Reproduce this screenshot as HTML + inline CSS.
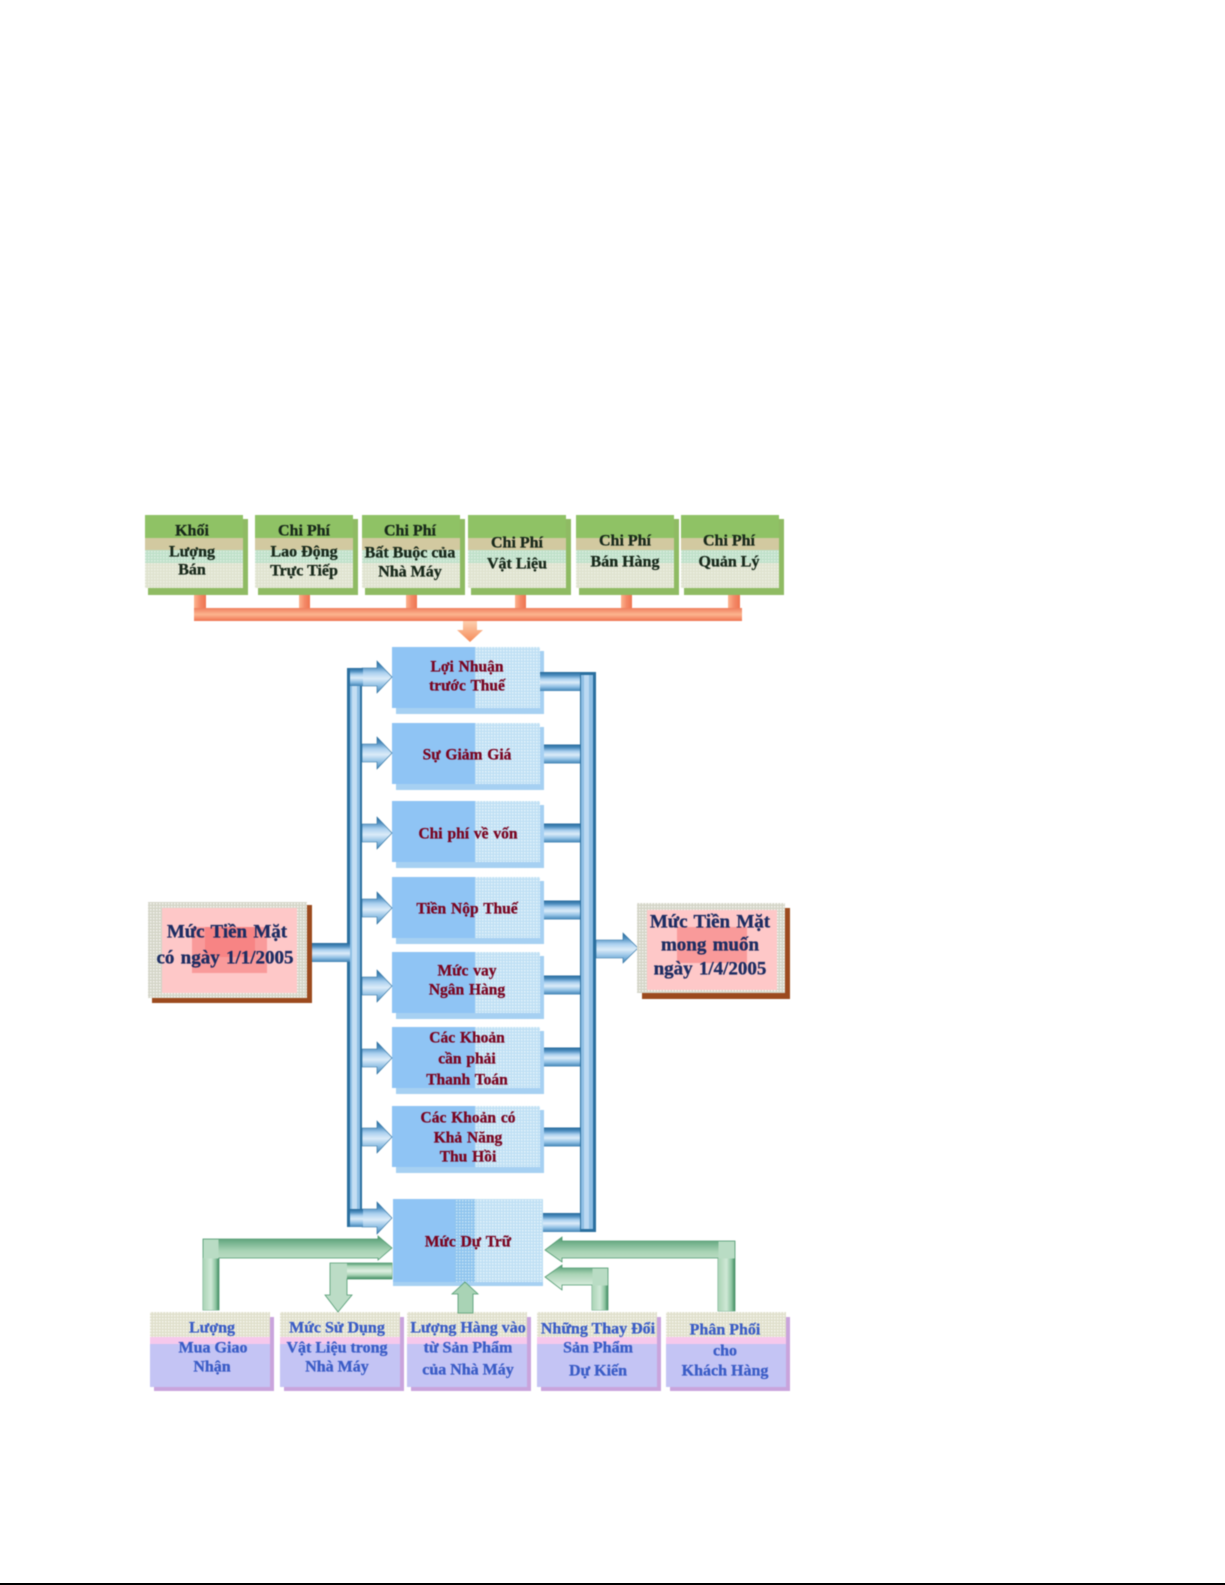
<!DOCTYPE html>
<html><head><meta charset="utf-8"><style>
html,body{margin:0;padding:0;background:#fff;width:1225px;height:1585px;overflow:hidden}
svg{display:block;position:absolute;left:0;top:0}
.blur{filter:blur(.45px)}
text{font-family:"Liberation Serif","DejaVu Serif",serif;font-weight:bold;text-anchor:middle;dominant-baseline:central;stroke-width:.3px}
.g text{fill:#17281a;stroke:#17281a;font-size:16px}
.r text{fill:#7a0420;stroke:#7a0420;font-size:15.5px;word-spacing:1px}
.c text{fill:#1c2c62;stroke:#1c2c62;font-size:19px;word-spacing:1.5px}
.b text{fill:#3a5cc6;stroke:#3a5cc6;font-size:16px}
</style></head><body>
<svg width="1225" height="1585" viewBox="0 0 1225 1585" xmlns="http://www.w3.org/2000/svg">
<defs>
<pattern id="dg" width="3" height="3" patternUnits="userSpaceOnUse"><rect width="3" height="3" fill="#dfe3cf"/><rect width="1.5" height="1.5" fill="#eef0e4"/></pattern>
<pattern id="dgr" width="3" height="3" patternUnits="userSpaceOnUse"><rect width="3" height="3" fill="#bfe0c9"/><rect width="1.5" height="1.5" fill="#dcefe1"/></pattern>
<pattern id="db" width="3" height="3" patternUnits="userSpaceOnUse"><rect width="3" height="3" fill="#c0e0f4"/><rect width="1.5" height="1.5" fill="#e4f3fb"/></pattern>
<pattern id="dm" width="3" height="3" patternUnits="userSpaceOnUse"><rect width="3" height="3" fill="#8fc4ee"/><rect width="1.5" height="1.5" fill="#c6e4f6"/></pattern>
<pattern id="dp" width="3" height="3" patternUnits="userSpaceOnUse"><rect width="3" height="3" fill="#d4d5c8"/><rect width="1.5" height="1.5" fill="#f4f4ee"/></pattern>
<pattern id="dl" width="3" height="3" patternUnits="userSpaceOnUse"><rect width="3" height="3" fill="#e0e0cc"/><rect width="1.5" height="1.5" fill="#f6f5ee"/></pattern>
<linearGradient id="bv" x1="0" y1="0" x2="0" y2="1"><stop offset="0" stop-color="#24689a"/><stop offset=".18" stop-color="#4f8fc0"/><stop offset=".36" stop-color="#a9cfee"/><stop offset=".55" stop-color="#dcecf9"/><stop offset=".78" stop-color="#8fbfe4"/><stop offset="1" stop-color="#3f82b4"/></linearGradient>
<linearGradient id="gv" x1="0" y1="0" x2="0" y2="1"><stop offset="0" stop-color="#4f9a70"/><stop offset=".2" stop-color="#a9d3b5"/><stop offset=".5" stop-color="#e0f0e3"/><stop offset=".75" stop-color="#a9d3b5"/><stop offset="1" stop-color="#3f8a60"/></linearGradient>
<linearGradient id="gh" x1="0" y1="0" x2="1" y2="0"><stop offset="0" stop-color="#a9d3b5"/><stop offset=".5" stop-color="#cfe8d6"/><stop offset=".8" stop-color="#8cc4a0"/><stop offset="1" stop-color="#3f8a60"/></linearGradient>
<linearGradient id="ov" x1="0" y1="0" x2="0" y2="1"><stop offset="0" stop-color="#ef7f5e"/><stop offset=".5" stop-color="#fdb48f"/><stop offset="1" stop-color="#ef7450"/></linearGradient>
<linearGradient id="oh" x1="0" y1="0" x2="1" y2="0"><stop offset="0" stop-color="#fdb48f"/><stop offset=".5" stop-color="#f48a68"/><stop offset="1" stop-color="#ee7450"/></linearGradient>
<linearGradient id="oa" x1="0" y1="0" x2="0" y2="1"><stop offset="0" stop-color="#fdd0b0"/><stop offset="1" stop-color="#f58a58"/></linearGradient>
<g id="tb">
<rect x="3" y="4" width="100" height="76" fill="#8fbb63"/>
<rect x="0" y="0" width="98" height="23" fill="#8fc265"/>
<rect x="0" y="23" width="98" height="12" fill="#d2c9a0"/>
<rect x="0" y="35" width="98" height="13" fill="url(#dgr)"/>
<rect x="0" y="48" width="98" height="25" fill="url(#dg)"/>
</g>
<g id="bb">
<rect x="4" y="4" width="148" height="63" fill="#a6d0f2"/>
<rect x="0" y="0" width="148" height="61" fill="#8fc4f4"/>
<rect x="83" y="0" width="65" height="61" fill="url(#db)"/>
</g>
<g id="lb">
<rect x="4" y="5" width="120" height="74" fill="#c9a4dc"/>
<rect x="0" y="0" width="120" height="75" fill="#c4c4f4"/>
<rect x="0" y="0" width="120" height="25" fill="url(#dl)"/>
<rect x="0" y="25" width="120" height="7" fill="#f6c8ec"/>
</g>
<polygon id="la" points="0,-9 15,-9 15,-16 30,0 15,16 15,9 0,9" fill="url(#bv)" stroke="#2a6f9f" stroke-width=".6"/>
<rect id="ra" x="0" y="-9.5" width="40" height="19" fill="url(#bv)"/>
</defs>
<rect width="1225" height="1585" fill="#fff"/>
<rect x="0" y="1583" width="1225" height="2" fill="#000"/>

<g class="blur">
<!-- top boxes -->
<use href="#tb" x="145" y="515"/><use href="#tb" x="255" y="515"/><use href="#tb" x="362" y="515"/><use href="#tb" x="468" y="515"/><use href="#tb" x="576" y="515"/><use href="#tb" x="681" y="515"/>
<!-- orange -->
<g fill="url(#oh)"><rect x="194" y="595" width="12" height="16"/><rect x="299" y="595" width="11" height="16"/><rect x="406" y="595" width="11" height="16"/><rect x="515" y="595" width="11" height="16"/><rect x="621" y="595" width="11" height="16"/><rect x="728" y="595" width="12" height="16"/></g>
<rect x="194" y="608" width="548" height="13" fill="url(#ov)"/>
<polygon points="463,621 477,621 477,630 483,630 470,642 457,630 463,630" fill="url(#oa)"/>

<!-- blue boxes -->
<use href="#bb" x="392" y="647"/><use href="#bb" x="392" y="723"/><use href="#bb" x="392" y="801"/><use href="#bb" x="392" y="877"/><use href="#bb" x="392" y="952"/><use href="#bb" x="392" y="1027"/><use href="#bb" x="392" y="1106"/>
<rect x="393" y="1199" width="150" height="83" fill="#8fc4f4"/><rect x="455" y="1199" width="20" height="83" fill="url(#dm)"/><rect x="475" y="1199" width="68" height="83" fill="url(#db)"/><rect x="393" y="1282" width="150" height="4" fill="#a6d0f2"/>

<!-- left bus -->
<rect x="347" y="668" width="15" height="559" fill="#2a6f9f"/>
<rect x="350" y="671" width="10" height="553" fill="#8fbfe4"/>
<rect x="352" y="671" width="5" height="553" fill="#c4def3"/>
<use href="#la" x="362" y="677"/><use href="#la" x="362" y="753"/><use href="#la" x="362" y="833"/><use href="#la" x="362" y="908"/><use href="#la" x="362" y="986"/><use href="#la" x="362" y="1058"/><use href="#la" x="362" y="1137"/><use href="#la" x="362" y="1218"/>
<rect x="350" y="668" width="13" height="18" fill="url(#bv)"/>
<rect x="350" y="1209" width="13" height="18" fill="url(#bv)"/>
<rect x="312" y="943" width="38" height="19" fill="url(#bv)"/>

<!-- right bus -->
<rect x="540" y="672" width="42" height="19" fill="url(#bv)"/>
<use href="#ra" x="544" y="754"/><use href="#ra" x="544" y="833"/><use href="#ra" x="544" y="910"/><use href="#ra" x="544" y="985"/><use href="#ra" x="544" y="1057"/><use href="#ra" x="544" y="1137"/>
<rect x="543" y="1213" width="39" height="19" fill="url(#bv)"/>
<rect x="580" y="672" width="16" height="560" fill="#2a6f9f"/>
<rect x="581" y="675" width="12" height="554" fill="#8fbfe4"/>
<rect x="584" y="675" width="5" height="554" fill="#bcd9f2"/>
<polygon points="596,940 623,940 623,933 638,948 623,963 623,958 596,958" fill="url(#bv)" stroke="#2a6f9f" stroke-width=".6"/>

<!-- cash boxes -->
<rect x="152" y="905" width="160" height="98" fill="#9c4a1e"/>
<rect x="148" y="902" width="159" height="96" fill="url(#dp)"/>
<rect x="162" y="908" width="135" height="85" fill="#fec8c8"/>
<rect x="192" y="927" width="75" height="46" fill="#f99a9a"/>
<rect x="205" y="927" width="50" height="30" fill="#f78484"/>
<rect x="642" y="908" width="148" height="91" fill="#9c4a1e"/>
<rect x="637" y="903" width="148" height="90" fill="url(#dp)"/>
<rect x="647" y="910" width="130" height="80" fill="#fec8c8"/>
<rect x="677" y="927" width="70" height="36" fill="#f99a9a"/>

<!-- bottom boxes -->
<use href="#lb" x="150" y="1312"/><use href="#lb" x="280" y="1312"/><use href="#lb" x="407" y="1312"/><use href="#lb" x="537" y="1312"/><use href="#lb" x="666" y="1312"/>

<!-- green arrows -->
<polygon points="203,1239 378,1239 378,1236 392,1248 378,1260 378,1258 219,1258 219,1310 203,1310" fill="url(#gv)" stroke="#4f9a70" stroke-width=".8"/>
<rect x="203" y="1258" width="16" height="52" fill="url(#gh)"/>
<rect x="203.5" y="1239.5" width="15" height="19" fill="#b9dcc4"/>
<polygon points="392,1263 330,1263 330,1295 325,1295 338,1312 352,1295 347,1295 347,1279 392,1279" fill="#bcdcc6" stroke="#4f9a70" stroke-width=".8"/>
<rect x="347" y="1263" width="45" height="16" fill="url(#gv)"/>
<polygon points="458,1313 458,1294 452,1294 465,1282 478,1294 473,1294 473,1313" fill="#a9d3b5" stroke="#4f9a70" stroke-width=".8"/>
<polygon points="608,1268 562,1268 562,1265 545,1277 562,1290 562,1285 592,1285 592,1310 608,1310" fill="url(#gv)" stroke="#4f9a70" stroke-width=".8"/>
<rect x="592" y="1285" width="16" height="25" fill="url(#gh)"/>
<rect x="592.5" y="1268.5" width="15" height="17" fill="#b9dcc4"/>
<polygon points="735,1241 562,1241 562,1237 545,1250 562,1262 562,1258 718,1258 718,1311 735,1311" fill="url(#gv)" stroke="#4f9a70" stroke-width=".8"/>
<rect x="718" y="1258" width="17" height="53" fill="url(#gh)"/>
<rect x="718.5" y="1241.5" width="16" height="17" fill="#b9dcc4"/>

<g class="g">
<text x="192" y="531">Khối</text><text x="192" y="552">Lượng</text><text x="192" y="570">Bán</text>
<text x="304" y="531">Chi Phí</text><text x="304" y="552">Lao Động</text><text x="304" y="571">Trực Tiếp</text>
<text x="410" y="531">Chi Phí</text><text x="410" y="553">Bất Buộc của</text><text x="410" y="572">Nhà Máy</text>
<text x="517" y="543">Chi Phí</text><text x="517" y="564">Vật Liệu</text>
<text x="625" y="541">Chi Phí</text><text x="625" y="562">Bán Hàng</text>
<text x="729" y="541">Chi Phí</text><text x="729" y="562">Quản Lý</text>
</g>
<g class="r">
<text x="467" y="667">Lợi Nhuận</text><text x="467" y="686">trước Thuế</text>
<text x="467" y="755">Sự Giảm Giá</text>
<text x="468" y="834">Chi phí về vốn</text>
<text x="467" y="909">Tiền Nộp Thuế</text>
<text x="467" y="971">Mức vay</text><text x="467" y="990">Ngân Hàng</text>
<text x="467" y="1038">Các Khoản</text><text x="467" y="1059">cần phải</text><text x="467" y="1080">Thanh Toán</text>
<text x="468" y="1118">Các Khoản có</text><text x="468" y="1138">Khả Năng</text><text x="468" y="1157">Thu Hồi</text>
<text x="468" y="1242">Mức Dự Trữ</text>
</g>
<g class="c">
<text x="227" y="932">Mức Tiền Mặt</text><text x="225" y="958">có ngày 1/1/2005</text>
<text x="710" y="922">Mức Tiền Mặt</text><text x="710" y="945">mong muốn</text><text x="710" y="969">ngày 1/4/2005</text>
</g>
<g class="b">
<text x="212" y="1328">Lượng</text><text x="213" y="1348">Mua Giao</text><text x="212" y="1367">Nhận</text>
<text x="337" y="1328">Mức Sử Dụng</text><text x="337" y="1348">Vật Liệu trong</text><text x="337" y="1367">Nhà Máy</text>
<text x="468" y="1328">Lượng Hàng vào</text><text x="468" y="1348">từ Sản Phẩm</text><text x="468" y="1370">của Nhà Máy</text>
<text x="598" y="1329">Những Thay Đổi</text><text x="598" y="1348">Sản Phẩm</text><text x="598" y="1371">Dự Kiến</text>
<text x="725" y="1330">Phân Phối</text><text x="725" y="1351">cho</text><text x="725" y="1371">Khách Hàng</text>
</g>
</g>
</svg>
</body></html>
